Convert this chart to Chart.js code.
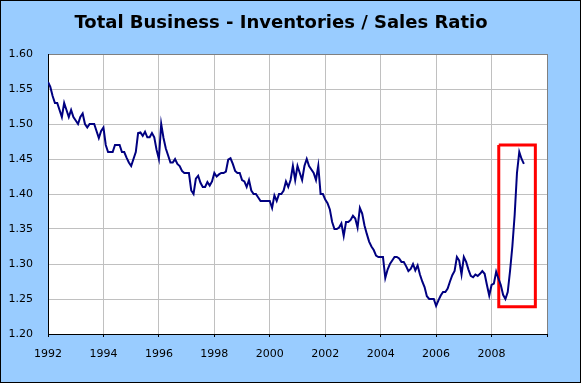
<!DOCTYPE html>
<html><head><meta charset="utf-8">
<script src="https://cdn.jsdelivr.net/npm/chart.js@4.4.1/dist/chart.umd.min.js"></script>
<style>html,body{margin:0;padding:0;background:#99CCFF;overflow:hidden}#wrap{width:581px;height:383px}</style>
</head><body><div id="wrap"><canvas id="c" width="581" height="383"></canvas></div>
<script>
const chartTitle = 'Total Business - Inventories / Sales Ratio';
const years = [1992,1993,1994,1995,1996,1997,1998,1999,2000,2001,2002,2003,2004,2005,2006,2007,2008,2009];
const v1992 = [1.56,1.553,1.54,1.53,1.53,1.52,1.51,1.53,1.52,1.51,1.52,1.51];
const v1993 = [1.505,1.50,1.51,1.515,1.50,1.495,1.50,1.50,1.50,1.49,1.48,1.49];
const v1994 = [1.495,1.47,1.46,1.46,1.46,1.47,1.47,1.47,1.46,1.46,1.452,1.445];
const v1995 = [1.44,1.45,1.46,1.487,1.488,1.483,1.489,1.481,1.481,1.487,1.481,1.463];
const v1996 = [1.45,1.50,1.48,1.465,1.455,1.445,1.445,1.45,1.443,1.44,1.433,1.43];
const v1997 = [1.43,1.43,1.405,1.40,1.422,1.426,1.416,1.41,1.41,1.417,1.412,1.418];
const v1998 = [1.43,1.425,1.428,1.43,1.43,1.432,1.449,1.451,1.443,1.433,1.43,1.43];
const v1999 = [1.42,1.418,1.41,1.42,1.405,1.40,1.40,1.395,1.39,1.39,1.39,1.39];
const v2000 = [1.39,1.38,1.398,1.39,1.40,1.40,1.405,1.418,1.41,1.42,1.44,1.42];
const v2001 = [1.44,1.43,1.42,1.44,1.45,1.44,1.435,1.43,1.42,1.44,1.40,1.40];
const v2002 = [1.392,1.387,1.378,1.36,1.35,1.35,1.352,1.358,1.34,1.36,1.36,1.363];
const v2003 = [1.369,1.365,1.352,1.38,1.372,1.355,1.343,1.332,1.325,1.32,1.312,1.31];
const v2004 = [1.31,1.31,1.28,1.292,1.30,1.305,1.31,1.31,1.308,1.303,1.303,1.297];
const v2005 = [1.29,1.293,1.30,1.291,1.298,1.285,1.275,1.267,1.254,1.25,1.25,1.25];
const v2006 = [1.24,1.248,1.255,1.26,1.26,1.265,1.275,1.284,1.29,1.31,1.305,1.285];
const v2007 = [1.31,1.303,1.292,1.283,1.281,1.285,1.283,1.286,1.29,1.286,1.27,1.255];
const v2008 = [1.27,1.272,1.289,1.279,1.27,1.256,1.25,1.26,1.29,1.325,1.37,1.43];
const v2009 = [1.46,1.45,1.443];
const yearValues = [v1992,v1993,v1994,v1995,v1996,v1997,v1998,v1999,v2000,v2001,v2002,v2003,v2004,v2005,v2006,v2007,v2008,v2009];
const xTickYears = [1992,1994,1996,1998,2000,2002,2004,2006,2008,2010];
const yTickValues = [1.20,1.25,1.30,1.35,1.40,1.45,1.50,1.55,1.60];
const boxX = [2008.26, 2009.58];
const boxY = [1.239, 1.47];

const series = [];
years.forEach((yr, i) => yearValues[i].forEach((v, m) => series.push({x: yr + m / 12, y: v})));
const boxPts = [
  {x: boxX[0], y: boxY[1]}, {x: boxX[1], y: boxY[1]},
  {x: boxX[1], y: boxY[0]}, {x: boxX[0], y: boxY[0]}, {x: boxX[0], y: boxY[1]}
];

const bgPlugin = {
  id: 'bg',
  beforeDraw(chart) {
    const c = chart.ctx;
    c.save();
    c.fillStyle = '#99CCFF';
    c.fillRect(0, 0, chart.width, chart.height);
    const a = chart.chartArea;
    c.fillStyle = '#FFFFFF';
    c.fillRect(a.left, a.top, a.right - a.left, a.bottom - a.top);
    c.restore();
  },
  afterDraw(chart) {
    const c = chart.ctx;
    c.save();
    c.strokeStyle = '#000000';
    c.lineWidth = 1;
    c.strokeRect(0.5, 0.5, chart.width - 1, chart.height - 1);
    c.restore();
  }
};

const font = {family: '"DejaVu Sans", Verdana, sans-serif', size: 11};

new Chart(document.getElementById('c'), {
  type: 'line',
  data: {
    datasets: [
      {data: series, borderColor: '#000080', borderWidth: 2, pointRadius: 0, tension: 0, fill: false, yAxisID: 'y', xAxisID: 'x'},
      {data: boxPts, borderColor: '#FF0000', borderWidth: 3, pointRadius: 0, tension: 0, fill: false, yAxisID: 'y', xAxisID: 'x'}
    ]
  },
  options: {
    responsive: false,
    animation: false,
    events: [],
    layout: {padding: {left: 0, right: 19, top: 0, bottom: 0}},
    plugins: {
      legend: {display: false},
      tooltip: {enabled: false},
      title: {
        display: true, text: chartTitle, color: '#000',
        font: {family: '"DejaVu Sans", Verdana, sans-serif', size: 18, weight: 'bold'},
        padding: {top: 13, bottom: 19.4}
      }
    },
    scales: {
      x: {
        type: 'linear', min: 1992, max: 2010,
        afterBuildTicks: s => { s.ticks = xTickYears.map(v => ({value: v})); },
        ticks: {callback: v => (v === 2010 ? '' : String(v)), font, color: '#000', padding: 11, maxRotation: 0, autoSkip: false},
        grid: {
          color: ctx => (ctx.tick && ctx.tick.value === 1992 ? '#000' : ctx.tick && ctx.tick.value === 2010 ? '#808080' : '#C0C0C0'),
          tickColor: '#000', tickLength: 3, drawTicks: true, lineWidth: 1
        },
        border: {color: '#000', width: 1},
        afterFit: s => { s.height = 49; }
      },
      y: {
        type: 'linear', position: 'left', min: 1.2, max: 1.6,
        afterBuildTicks: s => { s.ticks = yTickValues.map(v => ({value: v})); },
        ticks: {callback: v => v.toFixed(2), font, color: '#000', padding: 15},
        grid: {
          drawTicks: false,
          color: ctx => (ctx.tick && ctx.tick.value === 1.6 ? '#808080' : ctx.tick && ctx.tick.value === 1.2 ? '#000' : '#C0C0C0')
        },
        border: {color: '#000', width: 1},
        afterFit: s => { s.width = 48; }
      },
      y2: {
        type: 'linear', position: 'right', min: 0, max: 1,
        ticks: {display: false}, grid: {display: false, drawTicks: false}, border: {display: false},
        afterFit: s => { s.width = 15; }
      }
    }
  },
  plugins: [bgPlugin]
});
</script></body></html>
